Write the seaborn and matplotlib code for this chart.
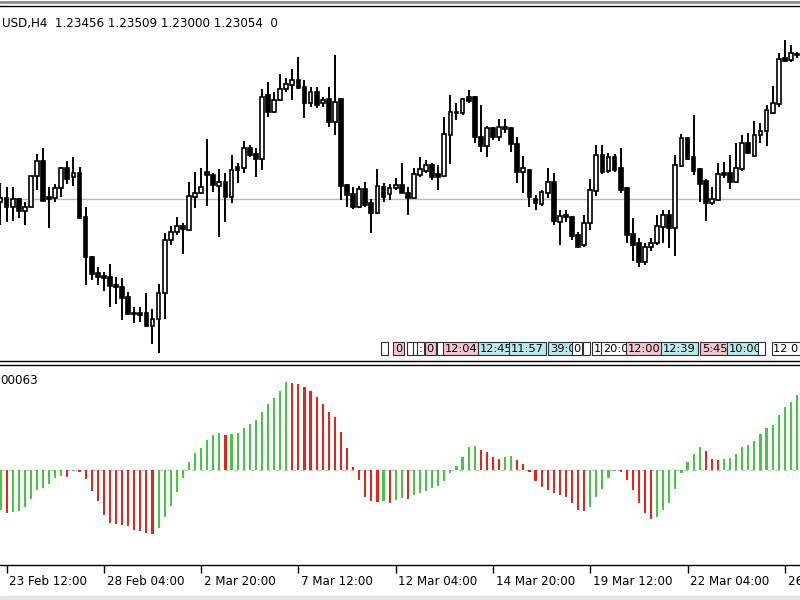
import numpy as np
import pandas as pd
import matplotlib
matplotlib.use('Agg')
import matplotlib.pyplot as plt
import matplotlib.transforms as mtransforms
from matplotlib.patches import Rectangle
import seaborn as sns

# ============================================================
# DATA  (H4 bars, prices stored as price * 10^4)
# ============================================================

open_pts = [
    12297, 12301, 12292, 12300, 12288, 12292, 12323, 12338, 12302, 12301,
    12311, 12331, 12322, 12326, 12282, 12242, 12226, 12223, 12222, 12214,
    12212, 12202, 12186, 12186, 12186, 12173, 12180, 12206, 12259, 12267,
    12273, 12269, 12302, 12306, 12327, 12324, 12313, 12317, 12302, 12332,
    12331, 12351, 12345, 12340, 12404, 12387, 12399, 12410, 12414, 12419,
    12412, 12396, 12407, 12396, 12400, 12377, 12400, 12314, 12305, 12292,
    12310, 12296, 12286, 12312, 12305, 12311, 12314, 12306, 12301, 12324,
    12328, 12334, 12325, 12323, 12364, 12386, 12386, 12402, 12402, 12362,
    12353, 12371, 12362, 12372, 12371, 12355, 12327, 12329, 12300, 12295,
    12306, 12317, 12277, 12284, 12282, 12264, 12254, 12276, 12308, 12344,
    12328, 12342, 12331, 12311, 12265, 12256, 12237, 12252, 12256, 12272,
    12284, 12271, 12333, 12361, 12342, 12330, 12318, 12296, 12299, 12326,
    12326, 12317, 12330, 12356, 12343, 12364, 12368, 12386, 12395, 12441,
    12439, 12445]

high_pts = [
    12316, 12312, 12312, 12301, 12297, 12323, 12345, 12351, 12312, 12315,
    12332, 12338, 12342, 12332, 12292, 12243, 12232, 12227, 12235, 12222,
    12221, 12207, 12192, 12192, 12206, 12190, 12215, 12266, 12273, 12282,
    12276, 12317, 12327, 12331, 12360, 12326, 12330, 12326, 12344, 12336,
    12358, 12354, 12351, 12410, 12417, 12407, 12425, 12421, 12430, 12442,
    12419, 12412, 12412, 12402, 12412, 12444, 12401, 12315, 12312, 12313,
    12317, 12300, 12330, 12316, 12315, 12321, 12336, 12312, 12331, 12342,
    12339, 12336, 12334, 12382, 12404, 12396, 12401, 12409, 12403, 12394,
    12373, 12372, 12380, 12380, 12372, 12362, 12343, 12330, 12304, 12309,
    12331, 12326, 12289, 12289, 12283, 12267, 12284, 12320, 12354, 12354,
    12346, 12345, 12351, 12312, 12281, 12261, 12256, 12261, 12284, 12289,
    12289, 12344, 12365, 12362, 12384, 12331, 12320, 12312, 12336, 12337,
    12344, 12356, 12364, 12366, 12378, 12376, 12394, 12413, 12446, 12459,
    12454, 12447]

low_pts = [
    12274, 12277, 12278, 12281, 12274, 12292, 12309, 12298, 12271, 12297,
    12302, 12315, 12313, 12280, 12214, 12219, 12214, 12208, 12192, 12195,
    12179, 12184, 12176, 12177, 12172, 12155, 12146, 12180, 12254, 12264,
    12245, 12268, 12291, 12305, 12293, 12307, 12262, 12277, 12296, 12316,
    12326, 12342, 12322, 12329, 12382, 12386, 12398, 12407, 12399, 12410,
    12381, 12392, 12391, 12392, 12372, 12364, 12299, 12292, 12290, 12291,
    12292, 12266, 12285, 12297, 12299, 12309, 12306, 12284, 12300, 12322,
    12326, 12319, 12309, 12322, 12335, 12379, 12384, 12396, 12356, 12347,
    12342, 12359, 12358, 12366, 12347, 12316, 12306, 12292, 12289, 12293,
    12301, 12274, 12254, 12277, 12259, 12251, 12252, 12269, 12303, 12325,
    12326, 12327, 12306, 12256, 12238, 12232, 12234, 12248, 12254, 12256,
    12251, 12243, 12332, 12339, 12324, 12297, 12278, 12294, 12298, 12321,
    12310, 12316, 12328, 12345, 12342, 12356, 12353, 12385, 12392, 12437,
    12437, 12441]

close_pts = [
    12301, 12292, 12300, 12288, 12292, 12323, 12338, 12298, 12300, 12311,
    12331, 12320, 12326, 12281, 12242, 12225, 12222, 12221, 12213, 12212,
    12201, 12185, 12185, 12184, 12173, 12180, 12206, 12259, 12267, 12273,
    12270, 12303, 12306, 12312, 12324, 12314, 12317, 12302, 12329, 12329,
    12351, 12344, 12340, 12402, 12387, 12399, 12410, 12415, 12419, 12411,
    12396, 12407, 12394, 12399, 12377, 12397, 12313, 12304, 12292, 12310,
    12294, 12286, 12313, 12302, 12311, 12314, 12306, 12301, 12325, 12330,
    12334, 12322, 12322, 12365, 12387, 12387, 12400, 12398, 12362, 12353,
    12371, 12362, 12372, 12370, 12355, 12327, 12331, 12302, 12296, 12307,
    12317, 12278, 12283, 12282, 12263, 12252, 12276, 12309, 12344, 12327,
    12342, 12329, 12309, 12264, 12254, 12237, 12252, 12256, 12273, 12284,
    12271, 12334, 12361, 12340, 12328, 12315, 12296, 12300, 12325, 12324,
    12317, 12331, 12356, 12346, 12364, 12368, 12389, 12396, 12440, 12438,
    12446, 12444]

# oscillator histogram, in units of 1e-5
ao_pts = [
    -40, -43, -42, -41, -37, -29, -20, -18, -14, -8,
    -6, -7, -1, -2, -9, -21, -31, -45, -53, -54,
    -55, -56, -60, -61, -63, -64, -58, -47, -36, -22,
    -8, 8, 17, 22, 30, 35, 37, 35, 36, 37,
    42, 46, 50, 58, 66, 72, 79, 88, 87, 86,
    83, 79, 73, 66, 58, 53, 38, 22, 3, -10,
    -27, -31, -32, -31, -33, -30, -28, -29, -25, -23,
    -21, -18, -16, -11, -3, 4, 13, 23, 24, 20,
    18, 13, 11, 13, 14, 10, 6, -2, -11, -17,
    -20, -23, -25, -27, -33, -40, -41, -37, -27, -19,
    -8, -1, -2, -10, -20, -33, -43, -49, -47, -40,
    -33, -19, -3, 8, 16, 23, 19, 11, 10, 11,
    12, 16, 23, 25, 29, 36, 42, 45, 55, 63,
    68, 75]

level_price = 1.2300
header_text = 'USD,H4  1.23456 1.23509 1.23000 1.23054  0'
ao_label = '00063'

tick_bars = [1, 17, 33, 49, 65, 81, 97, 113, 129]
tick_labels = ['23 Feb 12:00', '28 Feb 04:00', '2 Mar 20:00', '7 Mar 12:00',
               '12 Mar 04:00', '14 Mar 20:00', '19 Mar 12:00', '22 Mar 04:00',
               '26 Mar 20:00']

# countdown labels sitting at the bottom of the price window
timer_bar = [62.9, 64.9, 67.2, 68.2, 68.8, 70.1, 72.1, 73.1, 78.9, 84.0, 90.4,
             94.2, 96.1, 97.5, 99.1, 103.2, 109.0, 115.4, 119.7, 124.9, 127.1]
timer_text = [' ', '0', ' ', ' ', ':', '0', ' ', '12:04', '12:45', '11:57', '39:0',
              '0', ' ', '1', '20:00', '12:00', '12:39', '5:45', '10:00', ' ', '12 0']
timer_kind = ['w', 'p', 'w', 'w', 'w', 'p', 'w', 'p', 'c', 'c', 'c',
              'w', 'w', 'w', 'w', 'p', 'c', 'p', 'c', 'w', 'w']

# ============================================================
# PREP
# ============================================================

o = np.array(open_pts) / 1e4
h = np.array(high_pts) / 1e4
l = np.array(low_pts) / 1e4
c = np.array(close_pts) / 1e4
idx = np.arange(len(o))

ao = np.array(ao_pts) * 1e-5
trend = ['up'] + ['up' if ao[i] > ao[i - 1] else 'down' for i in range(1, len(ao))]
df_ao = pd.DataFrame({'bar': idx, 'ao': ao, 'trend': trend})

sns.set_style('white')
plt.rcParams['font.family'] = ['DejaVu Sans']

FS = 8.6
XLIM = (-0.08, 131.5)

fig = plt.figure(figsize=(8, 6), dpi=100)
ax1 = fig.add_axes([0, 1 - 361 / 600, 1, 355 / 600])
ax2 = fig.add_axes([0, 1 - 565 / 600, 1, 200 / 600])

# ============================================================
# PRICE PANEL
# ============================================================

bull = c >= o
ax1.axhline(level_price, color='#b8b8b8', linewidth=1, zorder=1)
ax1.vlines(idx, l, h, color='black', linewidth=1.4, zorder=2)
body = np.maximum(np.abs(c - o), 0.00005)
ax1.bar(idx, body, bottom=np.minimum(o, c), width=0.62,
        color=np.where(bull, 'white', 'black'), edgecolor='black',
        linewidth=1.2, zorder=3)

ax1.set_xlim(*XLIM)
ax1.set_ylim(1.2138, 1.2493)
ax1.set_xticks([])
ax1.set_yticks([])
ax1.text(0.002, 0.952, header_text, transform=ax1.transAxes,
         ha='left', va='center', fontsize=FS, color='black')

box_colors = {'w': 'white', 'p': '#f7c4cb', 'c': '#b5eded'}
trans = mtransforms.blended_transform_factory(ax1.transData, ax1.transAxes)
for k, (b, t, kind) in enumerate(zip(timer_bar, timer_text, timer_kind)):
    ax1.text(b, 0.035, t, transform=trans, ha='left', va='center',
             fontsize=8.2, color='black', zorder=5 + k, clip_on=False,
             bbox=dict(boxstyle='square,pad=0.15', fc=box_colors[kind],
                       ec='#303030', lw=0.8))

# ============================================================
# OSCILLATOR PANEL
# ============================================================

ax2.axhline(0, color='#c4c4c4', linewidth=1, linestyle=(0, (3, 3)), zorder=0)
sns.barplot(data=df_ao, x='bar', y='ao', hue='trend',
            palette={'up': '#44c844', 'down': '#e8231e'},
            native_scale=True, dodge=False, width=0.35, errorbar=None,
            legend=False, saturation=1, linewidth=0, ax=ax2)

ax2.set_xlim(*XLIM)
ax2.set_ylim(-0.00095, 0.00105)
ax2.set_yticks([])
ax2.set_xlabel('')
ax2.set_ylabel('')
ax2.set_xticks(tick_bars)
ax2.set_xticklabels(tick_labels, ha='left', fontsize=FS)
ax2.tick_params(axis='x', bottom=True, direction='out', length=5.5,
                width=1, pad=1.5, color='black', labelcolor='black')
offset = mtransforms.ScaledTranslation(2 / 72, 0, fig.dpi_scale_trans)
for lab in ax2.get_xticklabels():
    lab.set_transform(lab.get_transform() + offset)
ax2.text(0.0, 0.925, ao_label, transform=ax2.transAxes,
         ha='left', va='center', fontsize=FS, color='black')

for ax in (ax1, ax2):
    for side in ('left', 'right'):
        ax.spines[side].set_visible(False)
    for side in ('top', 'bottom'):
        ax.spines[side].set_color('black')
        ax.spines[side].set_linewidth(1)

# window frame bits
fig.add_artist(plt.Line2D([0, 1], [1 - 1.5 / 600] * 2, color='#8c8c8c',
                          linewidth=2, transform=fig.transFigure))
fig.add_artist(Rectangle((0, 0), 1, 4 / 600, transform=fig.transFigure,
                         color='#e4e4e4'))

fig.savefig('out.png', dpi=100)
print("saved out.png")
